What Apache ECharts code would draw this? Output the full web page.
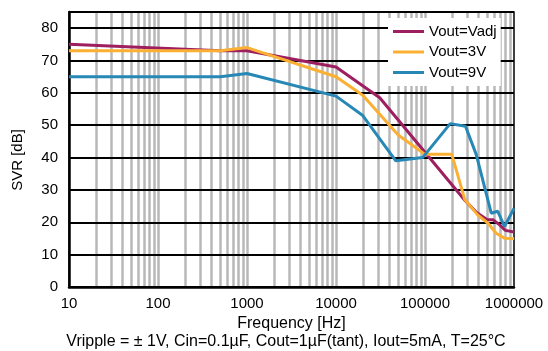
<!DOCTYPE html>
<html>
<head>
<meta charset="utf-8">
<script src="https://cdn.jsdelivr.net/npm/echarts@6/dist/echarts.min.js"></script>
<style>
html, body { margin: 0; padding: 0; background: #fff; }
#main { width: 548px; height: 351px; }
</style>
</head>
<body>
<div id="main"></div>
<script>
'use strict';

// series names, as in the legend
var seriesNames = ['Vout=Vadj', 'Vout=3V', 'Vout=9V'];

// Vout=Vadj
var freqVadj = [10, 500, 1000, 10000, 31000, 280000, 380000, 500000, 580000, 690000, 800000, 1000000];
var svrVadj = [75, 73, 73, 68, 58.5, 26.8, 23, 20.8, 20.8, 19.2, 17.5, 17];

// Vout=3V
var freq3V = [10, 500, 1000, 10000, 20000, 50000, 100000, 200000, 280000, 390000, 510000, 630000, 780000, 1000000];
var svr3V = [73, 73, 74, 65, 59.3, 47, 41, 41, 27, 22.3, 19.7, 16.6, 15.1, 15];

// Vout=9V
var freq9V = [10, 500, 1000, 10000, 20000, 47000, 94000, 192000, 285000, 376000, 555000, 658000, 782000, 1000000];
var svr9V = [65, 65, 66, 59, 53, 39, 40, 50.5, 49.7, 41, 22.8, 23.4, 18.7, 24.3];

// axis ticks
var xTicks = [10, 100, 1000, 10000, 100000, 1000000];
var yTicks = [0, 10, 20, 30, 40, 50, 60, 70, 80];

var font = '"Liberation Sans", Arial, sans-serif';
var colors = ['#9e1f5f', '#fbb033', '#2788b6'];

function pairs(xs, ys) {
	var out = [];
	for (var i = 0; i < xs.length; i++) {
		out.push([xs[i], ys[i]]);
	}
	return out;
}

// grey vertical grid lines: every 1..9 step of each decade
var gridFreqs = [];
for (var d = 0; d < xTicks.length - 1; d++) {
	for (var k = 1; k <= 9; k++) {
		if (d === 0 && k === 1) continue;
		gridFreqs.push(xTicks[d] * k);
	}
}

var myChart = echarts.init(document.getElementById('main'), null, { renderer: 'canvas' });

var option = {
	animation: false,
	color: colors,
	textStyle: { fontFamily: font },
	grid: {
		left: 69,
		right: 34,
		top: 12,
		bottom: 64,
		show: true,
		borderColor: '#000',
		borderWidth: 1.5,
		backgroundColor: 'transparent'
	},
	legend: {
		data: seriesNames,
		orient: 'vertical',
		left: 388,
		top: 18,
		padding: [6, 4, 6, 5],
		backgroundColor: '#fff',
		icon: 'rect',
		itemWidth: 31,
		itemHeight: 3,
		itemGap: 5.5,
		textStyle: { fontSize: 15, color: '#000', fontFamily: font, lineHeight: 15 }
	},
	xAxis: {
		type: 'log',
		logBase: 10,
		min: xTicks[0],
		max: xTicks[xTicks.length - 1],
		name: 'Frequency [Hz]',
		nameLocation: 'middle',
		nameGap: 27,
		nameTextStyle: { fontSize: 16, color: '#000', fontFamily: font },
		axisLine: { show: true, lineStyle: { color: '#000', width: 2.5 } },
		axisTick: { show: false },
		splitLine: { show: false },
		axisLabel: {
			fontSize: 15,
			color: '#000',
			margin: 9,
			fontFamily: font,
			formatter: function(v) { return String(Math.round(v)); }
		}
	},
	yAxis: {
		type: 'value',
		min: 0,
		max: 85,
		interval: 10,
		axisLine: { show: true, lineStyle: { color: '#000', width: 2.5 } },
		axisTick: { show: false },
		splitLine: { show: true, lineStyle: { color: '#000', width: 2 } },
		axisLabel: {
			fontSize: 15,
			color: '#000',
			margin: 11,
			fontFamily: font,
			formatter: function(v) { return yTicks.indexOf(v) >= 0 ? String(v) : ''; }
		}
	},
	series: [
		{
			name: seriesNames[0],
			type: 'line',
			data: pairs(freqVadj, svrVadj),
			showSymbol: false,
			lineStyle: { width: 3, color: colors[0] }
		},
		{
			name: seriesNames[1],
			type: 'line',
			data: pairs(freq3V, svr3V),
			showSymbol: false,
			lineStyle: { width: 3, color: colors[1] }
		},
		{
			name: seriesNames[2],
			type: 'line',
			data: pairs(freq9V, svr9V),
			showSymbol: false,
			lineStyle: { width: 3, color: colors[2] }
		},
		{
			name: 'grid',
			type: 'line',
			data: [],
			silent: true,
			markLine: {
				z: -1,
				silent: true,
				symbol: ['none', 'none'],
				label: { show: false },
				lineStyle: { color: '#b8b8b8', width: 2.5, type: 'solid' },
				emphasis: { disabled: true },
				data: gridFreqs.map(function(f) { return { xAxis: f }; })
			}
		}
	],
	graphic: [
		{
			type: 'text',
			x: 18,
			y: 160,
			rotation: Math.PI / 2,
			style: {
				text: 'SVR [dB]',
				fontSize: 15,
				fontFamily: font,
				fill: '#000',
				align: 'center',
				verticalAlign: 'middle'
			}
		},
		{
			type: 'text',
			x: 286,
			y: 342,
			style: {
				text: 'Vripple = \u00b1 1V, Cin=0.1\u00b5F, Cout=1\u00b5F(tant), Iout=5mA, T=25\u00b0C',
				fontSize: 16,
				fontFamily: font,
				fill: '#000',
				align: 'center',
				verticalAlign: 'middle'
			}
		}
	]
};

myChart.setOption(option);
</script>
</body>
</html>
